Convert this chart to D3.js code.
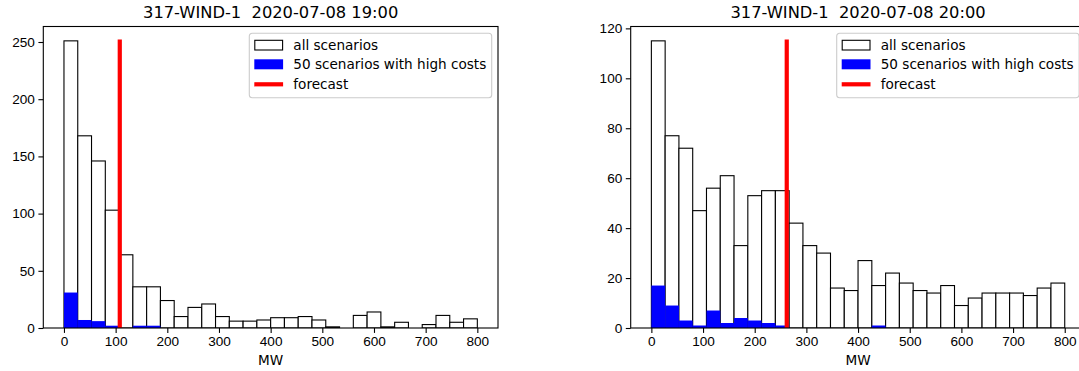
<!DOCTYPE html>
<html>
<head>
<meta charset="utf-8">
<script src="https://cdn.jsdelivr.net/npm/d3@7"></script>
<style>
  body { margin: 0; background: #fff; }
  svg { display: block; font-family: "DejaVu Sans", sans-serif; }
  .tick text { font-size: 13.6px; fill: #000; }
  .tick line { stroke: #000; stroke-width: 1.1px; }
</style>
</head>
<body>
<div id="vis"></div>
<script>
// histogram bins (MW)
const binMin = 0;
const binMax = 800;
const binCount = 30;

const titles = ['317-WIND-1  2020-07-08 19:00', '317-WIND-1  2020-07-08 20:00'];

// counts per bin, all 1000 scenarios
const allLeft = [251, 168, 146, 103, 64, 36, 36, 24, 10, 18, 21, 10, 6, 6, 7,
  9, 9, 10, 7, 1, 0, 11, 14, 1, 5, 0, 3, 11, 5, 8];
const allRight = [115, 77, 72, 47, 56, 61, 33, 53, 55, 55, 42, 33, 30, 16, 15,
  27, 17, 22, 18, 15, 14, 17, 9, 12, 14, 14, 14, 13, 16, 18];

// counts per bin, 50 scenarios with high costs
const highLeft = [31, 7, 6, 2, 0, 2, 2, 0, 0, 0, 0, 0, 0, 0, 0,
  0, 0, 0, 0, 0, 0, 0, 0, 0, 0, 0, 0, 0, 0, 0];
const highRight = [17, 9, 3, 1, 7, 2, 4, 3, 2, 1, 0, 0, 0, 0, 0,
  0, 1, 0, 0, 0, 0, 0, 0, 0, 0, 0, 0, 0, 0, 0];

const forecasts = [108, 262];

const yTicksLeft = [0, 50, 100, 150, 200, 250];
const yTicksRight = [0, 20, 40, 60, 80, 100, 120];
const xTicks = [0, 100, 200, 300, 400, 500, 600, 700, 800];

const legendLabels = ['all scenarios', '50 scenarios with high costs', 'forecast'];

const W = 1079, H = 371;
const panels = [
  { left: 43.3, title: titles[0], all: allLeft, high: highLeft, fc: forecasts[0], yTicks: yTicksLeft },
  { left: 630.7, title: titles[1], all: allRight, high: highRight, fc: forecasts[1], yTicks: yTicksRight }
];
const plotW = 454.7, plotTop = 26.5, plotBottom = 328;

const $svg = d3.select('#vis').append('svg')
  .attr('width', W)
  .attr('height', H);

const edges = d3.range(binCount + 1).map(i => binMin + i * (binMax - binMin) / binCount);

panels.forEach((p, pi) => {
  const span = binMax - binMin;
  const x = d3.scaleLinear()
    .domain([binMin - span * 0.05, binMax + span * 0.05])
    .range([p.left, p.left + plotW]);
  const y = d3.scaleLinear()
    .domain([0, d3.max(p.all) * 1.05])
    .range([plotBottom, plotTop]);

  const clipId = `clip-${pi}`;
  $svg.append('clipPath').attr('id', clipId)
    .append('rect')
    .attr('x', p.left).attr('y', plotTop)
    .attr('width', plotW).attr('height', plotBottom - plotTop);

  const $plot = $svg.append('g').attr('clip-path', `url(#${clipId})`);

  // all scenarios
  $plot.append('g').selectAll('rect')
    .data(p.all)
    .join('rect')
    .attr('x', (d, i) => x(edges[i]))
    .attr('width', (d, i) => x(edges[i + 1]) - x(edges[i]))
    .attr('y', d => y(d))
    .attr('height', d => y(0) - y(d))
    .attr('fill', '#fff')
    .attr('stroke', '#000')
    .attr('stroke-width', 1.1);

  // high cost scenarios
  $plot.append('g').selectAll('rect')
    .data(p.high)
    .join('rect')
    .attr('x', (d, i) => x(edges[i]))
    .attr('width', (d, i) => x(edges[i + 1]) - x(edges[i]))
    .attr('y', d => y(d))
    .attr('height', d => y(0) - y(d))
    .attr('fill', '#0000ff');

  // forecast line, up to 95% of axes height
  const yTop = y(y.domain()[1] * 0.95);
  $plot.append('line')
    .attr('x1', x(p.fc)).attr('x2', x(p.fc))
    .attr('y1', y(0) + 2).attr('y2', yTop - 2)
    .attr('stroke', '#ff0000')
    .attr('stroke-width', 4.2);

  // axes
  $svg.append('g')
    .attr('transform', `translate(0, ${plotBottom})`)
    .call(d3.axisBottom(x).tickValues(xTicks).tickSize(4.9).tickPadding(3.5))
    .call(g => g.select('.domain').remove());

  $svg.append('g')
    .attr('transform', `translate(${p.left}, 0)`)
    .call(d3.axisLeft(y).tickValues(p.yTicks).tickSize(4.9).tickPadding(3.5))
    .call(g => g.select('.domain').remove());

  // spines
  $svg.append('rect')
    .attr('x', p.left).attr('y', plotTop)
    .attr('width', plotW).attr('height', plotBottom - plotTop)
    .attr('fill', 'none')
    .attr('stroke', '#000')
    .attr('stroke-width', 1.1);

  $svg.append('text')
    .attr('x', p.left + plotW / 2)
    .attr('y', 18.3)
    .attr('text-anchor', 'middle')
    .attr('font-size', 16.3)
    .style('white-space', 'pre')
    .text(p.title);

  $svg.append('text')
    .attr('x', p.left + plotW / 2)
    .attr('y', 365)
    .attr('text-anchor', 'middle')
    .attr('font-size', 13.6)
    .text('MW');

  // legend
  const legW = 242.4, legH = 64.4;
  const legX = p.left + plotW - 6.3 - legW;
  const legY = plotTop + 6.8;
  const $leg = $svg.append('g')
    .attr('transform', `translate(${legX}, ${legY})`);
  $leg.append('rect')
    .attr('rx', 3)
    .attr('width', legW).attr('height', legH)
    .attr('fill', '#fff')
    .attr('fill-opacity', 0.8)
    .attr('stroke', '#cccccc')
    .attr('stroke-width', 1.1);
  $leg.selectAll('text.lab')
    .data(legendLabels)
    .join('text')
    .attr('class', 'lab')
    .attr('font-size', 13.6)
    .attr('x', 44)
    .attr('y', (d, i) => 16.5 + i * 19.5)
    .text(d => d);

  $leg.append('rect')
    .attr('x', 5.5).attr('y', 7)
    .attr('width', 27.8).attr('height', 9.7)
    .attr('fill', '#fff').attr('stroke', '#000').attr('stroke-width', 1.1);
  $leg.append('rect')
    .attr('x', 5).attr('y', 26)
    .attr('width', 28.8).attr('height', 10)
    .attr('fill', '#0000ff');
  $leg.append('line')
    .attr('x1', 5).attr('x2', 33.8)
    .attr('y1', 51).attr('y2', 51)
    .attr('stroke', '#ff0000').attr('stroke-width', 4.2);
});
</script>
</body>
</html>
